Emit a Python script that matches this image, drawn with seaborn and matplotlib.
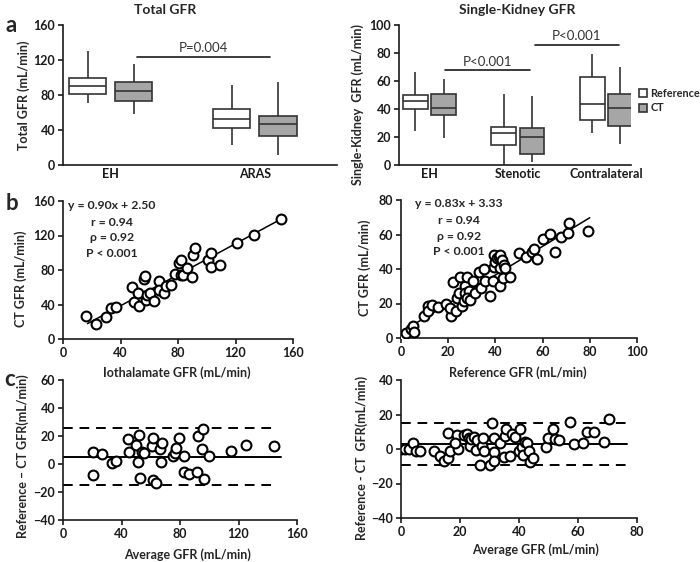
import numpy as np
import pandas as pd
import matplotlib
matplotlib.use("Agg")
import matplotlib.pyplot as plt
import seaborn as sns

# ---------------- data ----------------
# five-number summaries [min, q1, median, q3, max]
total_groups = ["EH", "ARAS"]
total_ref = {"EH": [70.5, 80.8, 90.0, 99.0, 130.7], "ARAS": [23.2, 41.9, 52.2, 64.0, 91.0]}
total_ct = {"EH": [58.7, 72.8, 84.2, 94.9, 115.0], "ARAS": [11.0, 33.1, 46.9, 55.6, 94.5]}

sk_groups = ["EH", "Stenotic", "Contralateral"]
sk_ref = {"EH": [24.1, 40.0, 45.5, 49.9, 66.5],
          "Stenotic": [0.0, 14.5, 23.1, 27.0, 50.4],
          "Contralateral": [23.1, 32.5, 43.9, 62.9, 79.5]}
sk_ct = {"EH": [19.5, 35.9, 40.5, 50.8, 61.4],
         "Stenotic": [2.0, 7.7, 19.8, 26.5, 49.2],
         "Contralateral": [15.0, 28.0, 41.0, 50.8, 69.9]}

# significance bars: (x_start, x_end, y, label)
total_sig = [(0.18, 1.107, 123.8, "P=0.004")]
sk_sig = [(0.18, 1.136, 67.5, "P<0.001"), (1.19, 2.14, 85.8, "P<0.001")]

# total GFR correlation (iothalamate vs CT)
tot_x = [15.8, 23.3, 30.2, 33.7, 36.7, 47.9, 49.3, 52.3, 52.8, 56.5, 57.0, 57.7, 58.6, 60.5,
         63.5, 67.0, 67.0, 70.5, 71.6, 75.1, 77.9, 80.7, 82.1, 82.1, 83.7, 86.5, 89.5, 90.2,
         91.9, 100.7, 103.0, 102.8, 109.3, 120.9, 132.6, 151.9]
tot_y = [26.9, 17.7, 25.4, 35.4, 36.9, 60.0, 42.7, 53.8, 38.1, 70.0, 73.0, 45.4, 51.2, 53.0,
         44.6, 67.7, 56.9, 53.8, 61.5, 62.7, 75.0, 88.5, 91.5, 74.2, 74.2, 81.9, 72.3, 97.3,
         105.0, 91.5, 100.0, 83.8, 85.8, 111.5, 120.4, 139.6]
tot_fit = {"slope": 0.90, "intercept": 2.50, "x_range": [17.0, 152.0]}
tot_stats = ["y = 0.90x + 2.50", "r = 0.94", "\u03c1 = 0.92", "P < 0.001"]

# single-kidney GFR correlation (reference vs CT)
sk_x = [0.0, 2.3, 4.2, 5.1, 5.6, 9.9, 11.3, 11.3, 13.1, 15.5, 19.2, 21.2, 20.9, 22.0, 23.2,
        23.7, 24.4, 25.1, 25.8, 26.6, 27.3, 28.0, 27.3, 28.7, 28.0, 29.4, 30.5, 31.5, 32.9,
        33.9, 35.0, 35.7, 37.9, 39.0, 39.5, 39.5, 40.0, 40.7, 41.4, 41.8, 41.8, 42.1, 42.8,
        43.2, 43.8, 44.2, 46.0, 49.9, 53.1, 55.5, 56.2, 57.6, 60.2, 63.3, 65.4, 67.9, 70.6,
        71.0, 79.1]
sk_y = [1.0, 2.9, 5.2, 7.1, 3.3, 12.9, 18.7, 15.4, 19.3, 17.9, 19.8, 12.5, 17.3, 32.4, 15.4,
        23.1, 26.0, 35.6, 18.3, 21.2, 29.9, 35.6, 26.0, 27.0, 23.1, 22.2, 32.8, 26.0, 38.2,
        28.9, 39.9, 32.8, 24.5, 32.8, 48.2, 41.0, 44.3, 46.2, 47.2, 40.5, 30.3, 48.2, 45.3,
        34.7, 42.4, 40.5, 35.6, 49.5, 47.2, 50.1, 51.4, 45.9, 57.2, 60.1, 50.1, 58.8, 61.1,
        66.9, 62.0]
sk_fit = {"slope": 0.83, "intercept": 3.33, "x_range": [0.0, 80.0]}
sk_stats = ["y = 0.83x + 3.33", "r = 0.94", "\u03c1 = 0.92", "P < 0.001"]

# Bland-Altman, total GFR
ba_tot_avg = [20.6, 20.6, 27.0, 33.6, 36.1, 44.6, 45.0, 50.0, 52.1, 51.4, 52.6, 53.7, 55.3,
              60.6, 61.3, 61.7, 63.5, 66.3, 67.9, 67.0, 75.0, 76.6, 77.3, 79.5, 83.0, 83.0,
              86.2, 91.9, 92.1, 94.9, 96.0, 96.5, 99.9, 115.0, 125.0, 144.5]
ba_tot_diff = [8.8, -7.9, 7.1, 0.5, 2.4, 17.9, 8.6, 13.6, 20.7, 1.2, -10.2, 8.3, 7.9, 12.9,
               18.8, -11.4, -13.3, 10.7, 14.8, 1.2, 6.0, 7.6, 11.7, 18.3, 6.0, -6.0, -7.4,
               -6.0, 20.2, 10.7, 25.0, -10.7, 6.0, 9.3, 13.6, 12.9]
ba_tot_lines = {"mean": 5.2, "upper": 25.7, "lower": -15.3, "mean_x": [0.0, 149.0], "loa_x": [0.0, 144.0]}

# Bland-Altman, single-kidney GFR
ba_sk_avg = [0.0, 1.5, 2.8, 4.1, 5.2, 6.3, 11.1, 13.3, 14.7, 15.8, 16.5, 15.9, 18.9, 19.2,
             18.4, 21.2, 22.4, 22.9, 23.3, 23.7, 24.9, 25.5, 25.8, 26.9, 27.5, 27.8, 28.0,
             30.0, 30.8, 31.4, 31.6, 31.6, 33.7, 35.0, 35.4, 35.7, 36.8, 37.6, 38.8, 39.9,
             40.5, 41.0, 41.4, 42.1, 42.7, 43.3, 43.6, 44.7, 49.3, 49.7, 51.4, 52.3, 53.4,
             57.4, 58.8, 61.7, 63.0, 65.5, 68.7, 70.4]
ba_sk_diff = [0.1, 0.0, 0.0, 3.4, -1.0, -1.0, -1.4, -3.8, -6.8, -5.3, -1.0, 9.2, 8.2, 0.1,
              3.4, 8.2, 8.8, 6.3, 2.0, 5.9, 7.2, -0.5, 5.3, -9.5, 2.0, 6.6, -1.0, -9.5, 14.9,
              6.3, -1.8, -6.8, 3.4, -4.9, 7.8, 11.7, -4.3, 8.6, 7.2, -1.0, 11.7, 1.4, -3.4,
              4.3, 3.4, -1.0, -7.6, -5.3, 0.9, 6.3, 11.7, 5.9, 5.3, 15.5, 2.8, 3.4, 10.1,
              10.1, 4.3, 17.4]
ba_sk_lines = {"mean": 2.8, "upper": 14.9, "lower": -9.3, "mean_x": [0.0, 76.5], "loa_x": [0.0, 76.5]}

# ---------------- style ----------------
sns.set_theme(style="ticks")
plt.rcParams["font.family"] = ["Lato", "DejaVu Sans"]
plt.rcParams["font.weight"] = "bold"
plt.rcParams["axes.labelweight"] = "bold"
plt.rcParams["axes.linewidth"] = 1.2
plt.rcParams["axes.edgecolor"] = "#1a1a1a"
plt.rcParams["xtick.color"] = "#1a1a1a"
plt.rcParams["ytick.color"] = "#1a1a1a"
plt.rcParams["xtick.major.width"] = 1.2
plt.rcParams["ytick.major.width"] = 1.2
plt.rcParams["xtick.major.size"] = 3.5
plt.rcParams["ytick.major.size"] = 3.5

TICK_FS = 9
LAB_FS = 9
STAT_FS = 8.8
INK = "#1a1a1a"
BOXLINE = "#333333"
PAL = {"Reference": "white", "CT": "#a6a6a6"}

fig = plt.figure(figsize=(7.0, 5.62), dpi=100)

def px_axes(x0, y0, x1, y1):
    W, H = 700.0, 562.0
    return fig.add_axes([x0 / W, 1 - y1 / H, (x1 - x0) / W, (y1 - y0) / H])

def box_df(groups, ref, ct):
    rows = []
    for g in groups:
        for v in ref[g]:
            rows.append((g, "Reference", v))
        for v in ct[g]:
            rows.append((g, "CT", v))
    return pd.DataFrame(rows, columns=["group", "method", "value"])

def style_ax(ax):
    sns.despine(ax=ax)
    ax.tick_params(labelsize=TICK_FS, pad=2)
    for lab in ax.get_xticklabels() + ax.get_yticklabels():
        lab.set_fontweight("bold")

def set_labels(ax, xl, xc, yl, yc):
    if xl is not None:
        ax.set_xlabel(xl, fontsize=LAB_FS)
        ax.xaxis.label.set_va("center")
        ax.xaxis.set_label_coords(*xc)
    else:
        ax.set_xlabel("")
    ax.set_ylabel(yl, fontsize=LAB_FS)
    ax.yaxis.label.set_va("center")
    ax.yaxis.set_label_coords(*yc)

# ---------------- panel a (left) ----------------
ax1 = px_axes(63, 25, 337, 165)
df1 = box_df(total_groups, total_ref, total_ct)
sns.boxplot(data=df1, x="group", y="value", hue="method", order=total_groups,
            hue_order=["Reference", "CT"], palette=PAL, whis=(0, 100), width=0.64,
            gap=0.19, linecolor=BOXLINE, linewidth=1.2, showcaps=False, legend=False, ax=ax1)
ax1.set_xlim(-0.33, 1.57)
ax1.set_ylim(0, 160)
ax1.set_yticks([0, 40, 80, 120, 160])
ax1.tick_params(axis="x", length=0)
for x0, x1, y, t in total_sig:
    ax1.plot([x0, x1], [y, y], color=INK, lw=1.2)
    ax1.text((x0 + x1) / 2, y + 3, t, ha="center", va="bottom", fontsize=9.5,
             fontweight="normal", color="#333333")
style_ax(ax1)
set_labels(ax1, None, None, "Total GFR (mL/min)", (-0.145, 0.5))

# ---------------- panel a (right) ----------------
ax2 = px_axes(399, 25, 631, 165)
df2 = box_df(sk_groups, sk_ref, sk_ct)
sns.boxplot(data=df2, x="group", y="value", hue="method", order=sk_groups,
            hue_order=["Reference", "CT"], palette=PAL, whis=(0, 100), width=0.64,
            gap=0.12, linecolor=BOXLINE, linewidth=1.2, showcaps=False, ax=ax2)
ax2.set_xlim(-0.345, 2.28)
ax2.set_ylim(0, 100)
ax2.set_yticks([0, 20, 40, 60, 80, 100])
ax2.tick_params(axis="x", length=0)
for x0, x1, y, t in sk_sig:
    ax2.plot([x0, x1], [y, y], color=INK, lw=1.2)
    ax2.text((x0 + x1) / 2, y + 2, t, ha="center", va="bottom", fontsize=9.5,
             fontweight="normal", color="#333333")
sns.move_legend(ax2, "center left", bbox_to_anchor=(1.035, 0.46), frameon=False, title=None,
                fontsize=7.8, handlelength=0.75, handleheight=0.75, handletextpad=0.3,
                labelspacing=0.35, borderaxespad=0, borderpad=0)
style_ax(ax2)
set_labels(ax2, None, None, "Single-Kidney  GFR (mL/min)", (-0.177, 0.43))

# ---------------- scatter helpers ----------------
def scatter_panel(ax, x, y):
    sns.scatterplot(x=x, y=y, ax=ax, s=50, facecolor="white", edgecolor="black",
                    linewidth=1.5, zorder=3)

def fit_line(ax, fit):
    xs = np.array(fit["x_range"])
    ys = fit["slope"] * xs + fit["intercept"]
    sns.lineplot(x=xs, y=ys, ax=ax, color="black", lw=1.1, zorder=2)

# ---------------- panel b (left) ----------------
ax3 = px_axes(63, 201, 293, 339)
fit_line(ax3, tot_fit)
scatter_panel(ax3, tot_x, tot_y)
ax3.set_xlim(0, 160); ax3.set_ylim(0, 160)
ax3.set_xticks([0, 40, 80, 120, 160]); ax3.set_yticks([0, 40, 80, 120, 160])
for t, yy in zip(tot_stats, [155, 135.4, 118, 99.7]):
    ax3.text(34, yy, t, ha="center", va="center", fontsize=STAT_FS, fontweight="bold")
style_ax(ax3)
set_labels(ax3, "Iothalamate GFR (mL/min)", (0.496, -0.246), "CT GFR (mL/min)", (-0.183, 0.44))

# ---------------- panel b (right) ----------------
ax4 = px_axes(401, 200, 637, 338)
fit_line(ax4, sk_fit)
scatter_panel(ax4, sk_x, sk_y)
ax4.set_xlim(0, 100); ax4.set_ylim(0, 80)
ax4.set_xticks([0, 20, 40, 60, 80, 100]); ax4.set_yticks([0, 20, 40, 60, 80])
for t, yy in zip(sk_stats, [77.7, 68.4, 59.1, 49.9]):
    ax4.text(24.6, yy, t, ha="center", va="center", fontsize=STAT_FS, fontweight="bold")
style_ax(ax4)
set_labels(ax4, "Reference GFR (mL/min)", (0.496, -0.254), "CT GFR (mL/min)", (-0.153, 0.507))

# ---------------- Bland-Altman helpers ----------------
def ba_panel(ax, avg, diff, lines):
    sns.lineplot(x=lines["mean_x"], y=[lines["mean"]] * 2, ax=ax, color="black", lw=1.4, zorder=2)
    for k in ("upper", "lower"):
        sns.lineplot(x=lines["loa_x"], y=[lines[k]] * 2, ax=ax, color="black", lw=1.4,
                     zorder=2).lines[-1].set_linestyle((0, (5, 3.5)))
    scatter_panel(ax, avg, diff)

# ---------------- panel c (left) ----------------
ax5 = px_axes(63, 380, 297, 520)
ba_panel(ax5, ba_tot_avg, ba_tot_diff, ba_tot_lines)
ax5.set_xlim(0, 160); ax5.set_ylim(-40, 60)
ax5.set_xticks([0, 40, 80, 120, 160]); ax5.set_yticks([-40, -20, 0, 20, 40, 60])
style_ax(ax5)
set_labels(ax5, "Average GFR (mL/min)", (0.534, -0.25), "Reference \u2013 CT GFR(mL/min)", (-0.173, 0.457))

# ---------------- panel c (right) ----------------
ax6 = px_axes(401, 380, 637, 518)
ba_panel(ax6, ba_sk_avg, ba_sk_diff, ba_sk_lines)
ax6.set_xlim(0, 80); ax6.set_ylim(-40, 40)
ax6.set_xticks([0, 20, 40, 60, 80]); ax6.set_yticks([-40, -20, 0, 20, 40])
style_ax(ax6)
set_labels(ax6, "Average GFR (mL/min)", (0.568, -0.232), "Reference - CT  GFR(mL/min)", (-0.165, 0.435))

# ---------------- titles & panel letters ----------------
fig.text(165 / 700, 1 - 10 / 562, "Total GFR", ha="center", va="center", fontsize=10, fontweight="bold")
fig.text(517 / 700, 1 - 10 / 562, "Single-Kidney GFR", ha="center", va="center", fontsize=10, fontweight="bold")
for letter, (px, py) in {"a": (11, 25), "b": (12, 203), "c": (10, 380)}.items():
    fig.text(px / 700, 1 - py / 562, letter, ha="center", va="center", fontsize=16, fontweight="bold")

fig.savefig("out.png", dpi=100)
